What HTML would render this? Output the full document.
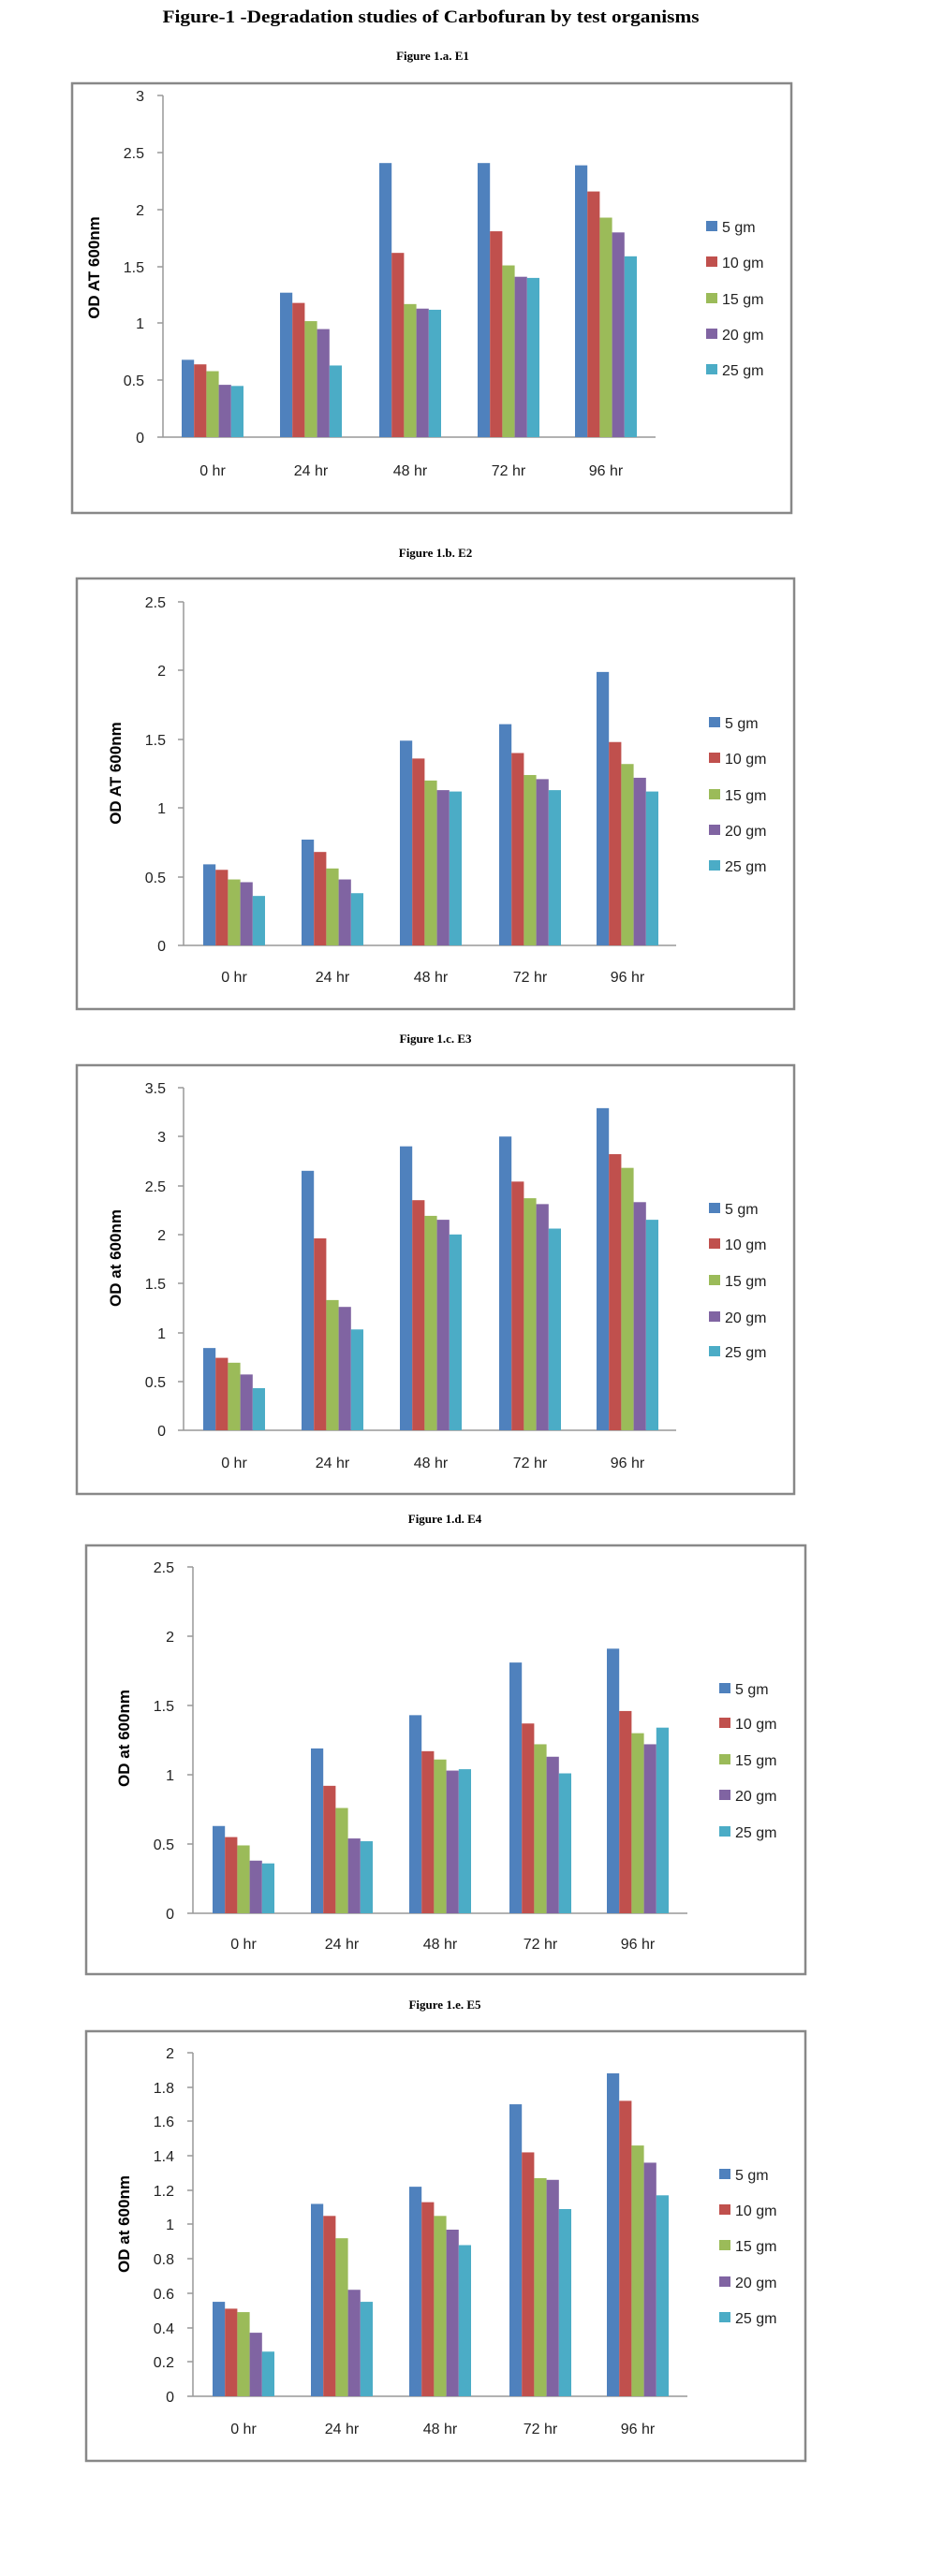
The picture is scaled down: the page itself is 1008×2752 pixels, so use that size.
<!DOCTYPE html>
<html><head><meta charset="utf-8"><style>
html,body{margin:0;padding:0;background:#fff}
svg{display:block}
.t{font-family:"Liberation Sans",sans-serif;font-size:16px;fill:#222}
.r{text-anchor:end}
.c{text-anchor:middle}
.yt{font-family:"Liberation Sans",sans-serif;font-size:17px;font-weight:bold;fill:#000;text-anchor:middle}
.h{font-family:"Liberation Serif",serif;font-weight:bold;fill:#000;text-anchor:middle}
.b{fill:none;stroke:#888;stroke-width:2.5}
.ax{stroke:#999;stroke-width:1.5;fill:none}
</style></head><body>
<svg width="1008" height="2752" viewBox="0 0 1008 2752" xmlns="http://www.w3.org/2000/svg">
<text class="h" x="460" y="24" font-size="19" textLength="573" lengthAdjust="spacingAndGlyphs">Figure-1 -Degradation studies of Carbofuran by test organisms</text>

<!-- E1 -->
<text class="h" x="462" y="64" font-size="13">Figure 1.a. E1</text>
<rect class="b" x="77" y="89" width="768" height="459"/>
<path class="ax" d="M174 102V467H700M168 102H174M168 163H174M168 224H174M168 285H174M168 345H174M168 406H174M168 467H174"/>
<g class="t r"><text x="154" y="108">3</text><text x="154" y="169">2.5</text><text x="154" y="230">2</text><text x="154" y="291">1.5</text><text x="154" y="351">1</text><text x="154" y="412">0.5</text><text x="154" y="473">0</text></g>
<text class="yt" transform="translate(106,286) rotate(-90)">OD AT 600nm</text>
<g transform="translate(0,467) scale(1,-121.5)">
<g transform="translate(194,0)"><rect x="0" width="13.2" height=".68" fill="#4F81BD"/><rect x="13.2" width="13.2" height=".64" fill="#C0504D"/><rect x="26.4" width="13.2" height=".58" fill="#9BBB59"/><rect x="39.6" width="13.2" height=".46" fill="#8064A2"/><rect x="52.8" width="13.2" height=".45" fill="#4BACC6"/></g>
<g transform="translate(299,0)"><rect x="0" width="13.2" height="1.27" fill="#4F81BD"/><rect x="13.2" width="13.2" height="1.18" fill="#C0504D"/><rect x="26.4" width="13.2" height="1.02" fill="#9BBB59"/><rect x="39.6" width="13.2" height=".95" fill="#8064A2"/><rect x="52.8" width="13.2" height=".63" fill="#4BACC6"/></g>
<g transform="translate(405,0)"><rect x="0" width="13.2" height="2.41" fill="#4F81BD"/><rect x="13.2" width="13.2" height="1.62" fill="#C0504D"/><rect x="26.4" width="13.2" height="1.17" fill="#9BBB59"/><rect x="39.6" width="13.2" height="1.13" fill="#8064A2"/><rect x="52.8" width="13.2" height="1.12" fill="#4BACC6"/></g>
<g transform="translate(510,0)"><rect x="0" width="13.2" height="2.41" fill="#4F81BD"/><rect x="13.2" width="13.2" height="1.81" fill="#C0504D"/><rect x="26.4" width="13.2" height="1.51" fill="#9BBB59"/><rect x="39.6" width="13.2" height="1.41" fill="#8064A2"/><rect x="52.8" width="13.2" height="1.40" fill="#4BACC6"/></g>
<g transform="translate(614,0)"><rect x="0" width="13.2" height="2.39" fill="#4F81BD"/><rect x="13.2" width="13.2" height="2.16" fill="#C0504D"/><rect x="26.4" width="13.2" height="1.93" fill="#9BBB59"/><rect x="39.6" width="13.2" height="1.80" fill="#8064A2"/><rect x="52.8" width="13.2" height="1.59" fill="#4BACC6"/></g>
</g>
<g class="t c"><text x="227" y="508">0 hr</text><text x="332" y="508">24 hr</text><text x="438" y="508">48 hr</text><text x="543" y="508">72 hr</text><text x="647" y="508">96 hr</text></g>
<g><rect x="754" y="236" width="12" height="11" fill="#4F81BD"/><rect x="754" y="274" width="12" height="11" fill="#C0504D"/><rect x="754" y="313" width="12" height="11" fill="#9BBB59"/><rect x="754" y="351" width="12" height="11" fill="#8064A2"/><rect x="754" y="389" width="12" height="11" fill="#4BACC6"/></g>
<g class="t"><text x="771" y="248">5 gm</text><text x="771" y="286">10 gm</text><text x="771" y="325">15 gm</text><text x="771" y="363">20 gm</text><text x="771" y="401">25 gm</text></g>

<!-- E2 -->
<text class="h" x="465" y="595" font-size="13">Figure 1.b. E2</text>
<rect class="b" x="82" y="618" width="766" height="460"/>
<path class="ax" d="M196 643V1010H722M190 643H196M190 716H196M190 790H196M190 863H196M190 937H196M190 1010H196"/>
<g class="t r"><text x="177" y="649">2.5</text><text x="177" y="722">2</text><text x="177" y="796">1.5</text><text x="177" y="869">1</text><text x="177" y="943">0.5</text><text x="177" y="1016">0</text></g>
<text class="yt" transform="translate(129,826) rotate(-90)">OD AT 600nm</text>
<g transform="translate(0,1010) scale(1,-146.8)">
<g transform="translate(217,0)"><rect x="0" width="13.2" height=".59" fill="#4F81BD"/><rect x="13.2" width="13.2" height=".55" fill="#C0504D"/><rect x="26.4" width="13.2" height=".48" fill="#9BBB59"/><rect x="39.6" width="13.2" height=".46" fill="#8064A2"/><rect x="52.8" width="13.2" height=".36" fill="#4BACC6"/></g>
<g transform="translate(322,0)"><rect x="0" width="13.2" height=".77" fill="#4F81BD"/><rect x="13.2" width="13.2" height=".68" fill="#C0504D"/><rect x="26.4" width="13.2" height=".56" fill="#9BBB59"/><rect x="39.6" width="13.2" height=".48" fill="#8064A2"/><rect x="52.8" width="13.2" height=".38" fill="#4BACC6"/></g>
<g transform="translate(427,0)"><rect x="0" width="13.2" height="1.49" fill="#4F81BD"/><rect x="13.2" width="13.2" height="1.36" fill="#C0504D"/><rect x="26.4" width="13.2" height="1.20" fill="#9BBB59"/><rect x="39.6" width="13.2" height="1.13" fill="#8064A2"/><rect x="52.8" width="13.2" height="1.12" fill="#4BACC6"/></g>
<g transform="translate(533,0)"><rect x="0" width="13.2" height="1.61" fill="#4F81BD"/><rect x="13.2" width="13.2" height="1.40" fill="#C0504D"/><rect x="26.4" width="13.2" height="1.24" fill="#9BBB59"/><rect x="39.6" width="13.2" height="1.21" fill="#8064A2"/><rect x="52.8" width="13.2" height="1.13" fill="#4BACC6"/></g>
<g transform="translate(637,0)"><rect x="0" width="13.2" height="1.99" fill="#4F81BD"/><rect x="13.2" width="13.2" height="1.48" fill="#C0504D"/><rect x="26.4" width="13.2" height="1.32" fill="#9BBB59"/><rect x="39.6" width="13.2" height="1.22" fill="#8064A2"/><rect x="52.8" width="13.2" height="1.12" fill="#4BACC6"/></g>
</g>
<g class="t c"><text x="250" y="1049">0 hr</text><text x="355" y="1049">24 hr</text><text x="460" y="1049">48 hr</text><text x="566" y="1049">72 hr</text><text x="670" y="1049">96 hr</text></g>
<g><rect x="757" y="766" width="12" height="11" fill="#4F81BD"/><rect x="757" y="804" width="12" height="11" fill="#C0504D"/><rect x="757" y="843" width="12" height="11" fill="#9BBB59"/><rect x="757" y="881" width="12" height="11" fill="#8064A2"/><rect x="757" y="919" width="12" height="11" fill="#4BACC6"/></g>
<g class="t"><text x="774" y="778">5 gm</text><text x="774" y="816">10 gm</text><text x="774" y="855">15 gm</text><text x="774" y="893">20 gm</text><text x="774" y="931">25 gm</text></g>

<!-- E3 -->
<text class="h" x="465" y="1114" font-size="13">Figure 1.c. E3</text>
<rect class="b" x="82" y="1138" width="766" height="458"/>
<path class="ax" d="M196 1162V1528H722M190 1162H196M190 1214H196M190 1267H196M190 1319H196M190 1371H196M190 1424H196M190 1476H196M190 1528H196"/>
<g class="t r"><text x="177" y="1168">3.5</text><text x="177" y="1220">3</text><text x="177" y="1273">2.5</text><text x="177" y="1325">2</text><text x="177" y="1377">1.5</text><text x="177" y="1430">1</text><text x="177" y="1482">0.5</text><text x="177" y="1534">0</text></g>
<text class="yt" transform="translate(129,1344) rotate(-90)">OD at 600nm</text>
<g transform="translate(0,1528) scale(1,-104.6)">
<g transform="translate(217,0)"><rect x="0" width="13.2" height=".84" fill="#4F81BD"/><rect x="13.2" width="13.2" height=".74" fill="#C0504D"/><rect x="26.4" width="13.2" height=".69" fill="#9BBB59"/><rect x="39.6" width="13.2" height=".57" fill="#8064A2"/><rect x="52.8" width="13.2" height=".43" fill="#4BACC6"/></g>
<g transform="translate(322,0)"><rect x="0" width="13.2" height="2.65" fill="#4F81BD"/><rect x="13.2" width="13.2" height="1.96" fill="#C0504D"/><rect x="26.4" width="13.2" height="1.33" fill="#9BBB59"/><rect x="39.6" width="13.2" height="1.26" fill="#8064A2"/><rect x="52.8" width="13.2" height="1.03" fill="#4BACC6"/></g>
<g transform="translate(427,0)"><rect x="0" width="13.2" height="2.90" fill="#4F81BD"/><rect x="13.2" width="13.2" height="2.35" fill="#C0504D"/><rect x="26.4" width="13.2" height="2.19" fill="#9BBB59"/><rect x="39.6" width="13.2" height="2.15" fill="#8064A2"/><rect x="52.8" width="13.2" height="2.00" fill="#4BACC6"/></g>
<g transform="translate(533,0)"><rect x="0" width="13.2" height="3.00" fill="#4F81BD"/><rect x="13.2" width="13.2" height="2.54" fill="#C0504D"/><rect x="26.4" width="13.2" height="2.37" fill="#9BBB59"/><rect x="39.6" width="13.2" height="2.31" fill="#8064A2"/><rect x="52.8" width="13.2" height="2.06" fill="#4BACC6"/></g>
<g transform="translate(637,0)"><rect x="0" width="13.2" height="3.29" fill="#4F81BD"/><rect x="13.2" width="13.2" height="2.82" fill="#C0504D"/><rect x="26.4" width="13.2" height="2.68" fill="#9BBB59"/><rect x="39.6" width="13.2" height="2.33" fill="#8064A2"/><rect x="52.8" width="13.2" height="2.15" fill="#4BACC6"/></g>
</g>
<g class="t c"><text x="250" y="1568">0 hr</text><text x="355" y="1568">24 hr</text><text x="460" y="1568">48 hr</text><text x="566" y="1568">72 hr</text><text x="670" y="1568">96 hr</text></g>
<g><rect x="757" y="1285" width="12" height="11" fill="#4F81BD"/><rect x="757" y="1323" width="12" height="11" fill="#C0504D"/><rect x="757" y="1362" width="12" height="11" fill="#9BBB59"/><rect x="757" y="1401" width="12" height="11" fill="#8064A2"/><rect x="757" y="1438" width="12" height="11" fill="#4BACC6"/></g>
<g class="t"><text x="774" y="1297">5 gm</text><text x="774" y="1335">10 gm</text><text x="774" y="1374">15 gm</text><text x="774" y="1413">20 gm</text><text x="774" y="1450">25 gm</text></g>

<!-- E4 -->
<text class="h" x="475" y="1627" font-size="13">Figure 1.d. E4</text>
<rect class="b" x="92" y="1651" width="768" height="458"/>
<path class="ax" d="M206 1674V2044H734M200 1674H206M200 1748H206M200 1822H206M200 1896H206M200 1970H206M200 2044H206"/>
<g class="t r"><text x="186" y="1680">2.5</text><text x="186" y="1754">2</text><text x="186" y="1828">1.5</text><text x="186" y="1902">1</text><text x="186" y="1976">0.5</text><text x="186" y="2050">0</text></g>
<text class="yt" transform="translate(138,1857) rotate(-90)">OD  at 600nm</text>
<g transform="translate(0,2044) scale(1,-148)">
<g transform="translate(227,0)"><rect x="0" width="13.2" height=".63" fill="#4F81BD"/><rect x="13.2" width="13.2" height=".55" fill="#C0504D"/><rect x="26.4" width="13.2" height=".49" fill="#9BBB59"/><rect x="39.6" width="13.2" height=".38" fill="#8064A2"/><rect x="52.8" width="13.2" height=".36" fill="#4BACC6"/></g>
<g transform="translate(332,0)"><rect x="0" width="13.2" height="1.19" fill="#4F81BD"/><rect x="13.2" width="13.2" height=".92" fill="#C0504D"/><rect x="26.4" width="13.2" height=".76" fill="#9BBB59"/><rect x="39.6" width="13.2" height=".54" fill="#8064A2"/><rect x="52.8" width="13.2" height=".52" fill="#4BACC6"/></g>
<g transform="translate(437,0)"><rect x="0" width="13.2" height="1.43" fill="#4F81BD"/><rect x="13.2" width="13.2" height="1.17" fill="#C0504D"/><rect x="26.4" width="13.2" height="1.11" fill="#9BBB59"/><rect x="39.6" width="13.2" height="1.03" fill="#8064A2"/><rect x="52.8" width="13.2" height="1.04" fill="#4BACC6"/></g>
<g transform="translate(544,0)"><rect x="0" width="13.2" height="1.81" fill="#4F81BD"/><rect x="13.2" width="13.2" height="1.37" fill="#C0504D"/><rect x="26.4" width="13.2" height="1.22" fill="#9BBB59"/><rect x="39.6" width="13.2" height="1.13" fill="#8064A2"/><rect x="52.8" width="13.2" height="1.01" fill="#4BACC6"/></g>
<g transform="translate(648,0)"><rect x="0" width="13.2" height="1.91" fill="#4F81BD"/><rect x="13.2" width="13.2" height="1.46" fill="#C0504D"/><rect x="26.4" width="13.2" height="1.30" fill="#9BBB59"/><rect x="39.6" width="13.2" height="1.22" fill="#8064A2"/><rect x="52.8" width="13.2" height="1.34" fill="#4BACC6"/></g>
</g>
<g class="t c"><text x="260" y="2082">0 hr</text><text x="365" y="2082">24 hr</text><text x="470" y="2082">48 hr</text><text x="577" y="2082">72 hr</text><text x="681" y="2082">96 hr</text></g>
<g><rect x="768" y="1798" width="12" height="11" fill="#4F81BD"/><rect x="768" y="1835" width="12" height="11" fill="#C0504D"/><rect x="768" y="1874" width="12" height="11" fill="#9BBB59"/><rect x="768" y="1912" width="12" height="11" fill="#8064A2"/><rect x="768" y="1951" width="12" height="11" fill="#4BACC6"/></g>
<g class="t"><text x="785" y="1810">5 gm</text><text x="785" y="1847">10 gm</text><text x="785" y="1886">15 gm</text><text x="785" y="1924">20 gm</text><text x="785" y="1963">25 gm</text></g>

<!-- E5 -->
<text class="h" x="475" y="2146" font-size="13">Figure 1.e. E5</text>
<rect class="b" x="92" y="2170" width="768" height="459"/>
<path class="ax" d="M206 2193V2560H734M200 2193H206M200 2230H206M200 2266H206M200 2303H206M200 2340H206M200 2376H206M200 2413H206M200 2450H206M200 2487H206M200 2523H206M200 2560H206"/>
<g class="t r"><text x="186" y="2199">2</text><text x="186" y="2236">1.8</text><text x="186" y="2272">1.6</text><text x="186" y="2309">1.4</text><text x="186" y="2346">1.2</text><text x="186" y="2382">1</text><text x="186" y="2419">0.8</text><text x="186" y="2456">0.6</text><text x="186" y="2493">0.4</text><text x="186" y="2529">0.2</text><text x="186" y="2566">0</text></g>
<text class="yt" transform="translate(138,2376) rotate(-90)">OD at 600nm</text>
<g transform="translate(0,2560) scale(1,-183.5)">
<g transform="translate(227,0)"><rect x="0" width="13.2" height=".55" fill="#4F81BD"/><rect x="13.2" width="13.2" height=".51" fill="#C0504D"/><rect x="26.4" width="13.2" height=".49" fill="#9BBB59"/><rect x="39.6" width="13.2" height=".37" fill="#8064A2"/><rect x="52.8" width="13.2" height=".26" fill="#4BACC6"/></g>
<g transform="translate(332,0)"><rect x="0" width="13.2" height="1.12" fill="#4F81BD"/><rect x="13.2" width="13.2" height="1.05" fill="#C0504D"/><rect x="26.4" width="13.2" height=".92" fill="#9BBB59"/><rect x="39.6" width="13.2" height=".62" fill="#8064A2"/><rect x="52.8" width="13.2" height=".55" fill="#4BACC6"/></g>
<g transform="translate(437,0)"><rect x="0" width="13.2" height="1.22" fill="#4F81BD"/><rect x="13.2" width="13.2" height="1.13" fill="#C0504D"/><rect x="26.4" width="13.2" height="1.05" fill="#9BBB59"/><rect x="39.6" width="13.2" height=".97" fill="#8064A2"/><rect x="52.8" width="13.2" height=".88" fill="#4BACC6"/></g>
<g transform="translate(544,0)"><rect x="0" width="13.2" height="1.70" fill="#4F81BD"/><rect x="13.2" width="13.2" height="1.42" fill="#C0504D"/><rect x="26.4" width="13.2" height="1.27" fill="#9BBB59"/><rect x="39.6" width="13.2" height="1.26" fill="#8064A2"/><rect x="52.8" width="13.2" height="1.09" fill="#4BACC6"/></g>
<g transform="translate(648,0)"><rect x="0" width="13.2" height="1.88" fill="#4F81BD"/><rect x="13.2" width="13.2" height="1.72" fill="#C0504D"/><rect x="26.4" width="13.2" height="1.46" fill="#9BBB59"/><rect x="39.6" width="13.2" height="1.36" fill="#8064A2"/><rect x="52.8" width="13.2" height="1.17" fill="#4BACC6"/></g>
</g>
<g class="t c"><text x="260" y="2600">0 hr</text><text x="365" y="2600">24 hr</text><text x="470" y="2600">48 hr</text><text x="577" y="2600">72 hr</text><text x="681" y="2600">96 hr</text></g>
<g><rect x="768" y="2317" width="12" height="11" fill="#4F81BD"/><rect x="768" y="2355" width="12" height="11" fill="#C0504D"/><rect x="768" y="2393" width="12" height="11" fill="#9BBB59"/><rect x="768" y="2432" width="12" height="11" fill="#8064A2"/><rect x="768" y="2470" width="12" height="11" fill="#4BACC6"/></g>
<g class="t"><text x="785" y="2329">5 gm</text><text x="785" y="2367">10 gm</text><text x="785" y="2405">15 gm</text><text x="785" y="2444">20 gm</text><text x="785" y="2482">25 gm</text></g>
</svg>
</body></html>
